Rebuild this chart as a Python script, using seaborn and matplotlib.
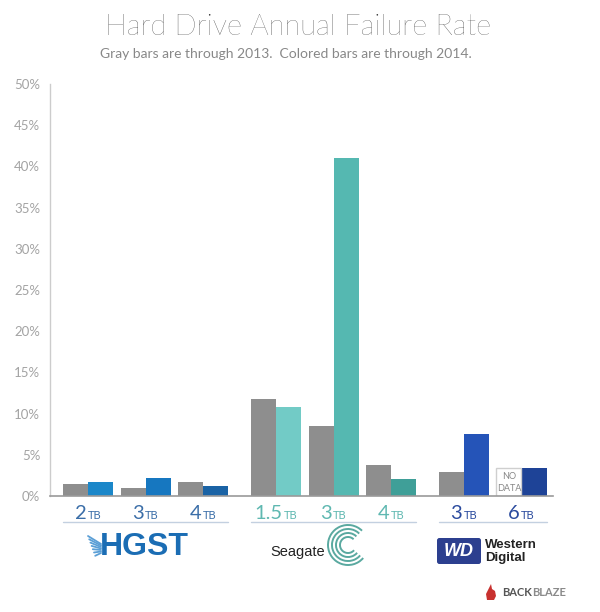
import numpy as np
import pandas as pd
import matplotlib
matplotlib.use("Agg")
import matplotlib.pyplot as plt
import seaborn as sns
from matplotlib.offsetbox import TextArea, HPacker, AnnotationBbox
from matplotlib.patches import Arc, Polygon, FancyBboxPatch
from matplotlib.lines import Line2D

# ---------------- data ----------------
brands = ["HGST", "HGST", "HGST", "Seagate", "Seagate", "Seagate", "WD", "WD"]
capacities = ["2", "3", "4", "1.5", "3", "4", "3", "6"]
rate_2013 = [1.5, 1.0, 1.7, 11.8, 8.5, 3.8, 2.9, np.nan]   # gray bars
rate_2014 = [1.65, 2.15, 1.2, 10.8, 41.0, 2.05, 7.5, 3.35]  # colored bars
colors_2014 = ["#1b87c9", "#1677c0", "#1a63a5",
               "#72cbc6", "#55b8b1", "#3f9f98",
               "#2554b8", "#1e4397"]
brand_label_colors = {"HGST": "#3b6ea8", "Seagate": "#5fb8b1", "WD": "#2b4b9e"}
y_ticks = [0, 5, 10, 15, 20, 25, 30, 35, 40, 45, 50]
y_tick_labels = [f"{t}%" for t in y_ticks]
title = "Hard Drive Annual Failure Rate"
subtitle = "Gray bars are through 2013.  Colored bars are through 2014."
gray = "#8e8e8e"

# ---------------- layout ----------------
STEP_IN = 2.3     # distance between pairs within a brand (bar widths)
STEP_OUT = 2.92   # distance between pairs across brands
centers = []
c = 0.0
for i, b in enumerate(brands):
    if i > 0:
        c += STEP_IN if b == brands[i - 1] else STEP_OUT
    centers.append(c)

rows = []
for i in range(len(brands)):
    rows.append({"x": centers[i] - 0.5, "rate": rate_2013[i], "bar": f"g{i}", "color": gray})
    rows.append({"x": centers[i] + 0.5, "rate": rate_2014[i], "bar": f"c{i}", "color": colors_2014[i]})
df = pd.DataFrame(rows)
palette = dict(zip(df["bar"], df["color"]))

sns.set_style("white")
plt.rcParams["font.family"] = ["Lato", "DejaVu Sans"]

W, H = 600, 612
fig = plt.figure(figsize=(W / 100, H / 100), dpi=100)
ax = fig.add_axes([50 / W, 1 - 496 / H, 503 / W, 412 / H])

def F(px, py):
    return (px / W, 1 - py / H)

sns.barplot(data=df.dropna(), x="x", y="rate", hue="bar", palette=palette,
            native_scale=True, dodge=False, width=1.0, errorbar=None,
            legend=False, saturation=1, linewidth=0, ax=ax)

# "NO DATA" placeholders where 2013 is missing
nd = pd.DataFrame([{"x": centers[i] - 0.5, "rate": rate_2014[i]}
                   for i in range(len(brands)) if np.isnan(rate_2013[i])])
if len(nd):
    sns.barplot(data=nd, x="x", y="rate", native_scale=True, width=1.0,
                errorbar=None, color="white", saturation=1,
                edgecolor="#cfcfcf", linewidth=1, ax=ax)
    for _, r in nd.iterrows():
        ax.text(r["x"], r["rate"] / 2, "NO\nDATA", ha="center", va="center",
                fontsize=6.5, color="#888888", linespacing=1.4)

ax.set_xlim(-38 / 25, 465 / 25)
ax.set_ylim(0, 50)
ax.set_yticks(y_ticks)
ax.set_yticklabels(y_tick_labels)
ax.set_xticks([])
ax.set_xlabel("")
ax.set_ylabel("")
ax.tick_params(axis="y", length=0, pad=7, labelsize=9.5, labelcolor="#a3a3a3")
for s in ["top", "right"]:
    ax.spines[s].set_visible(False)
ax.spines["left"].set_color("#cccccc")
ax.spines["left"].set_linewidth(1)
ax.spines["bottom"].set_color("#9a9a9a")
ax.spines["bottom"].set_linewidth(1.2)
ax.grid(False)

# capacity labels
xt = ax.get_xaxis_transform()
for i in range(len(brands)):
    col = brand_label_colors[brands[i]]
    num = TextArea(capacities[i], textprops=dict(fontsize=14.5, color=col, fontweight="normal"))
    tb = TextArea("TB", textprops=dict(fontsize=8, color=col))
    box = HPacker(children=[num, tb], align="baseline", pad=0, sep=1)
    ab = AnnotationBbox(box, (centers[i], -0.042), xycoords=xt, frameon=False,
                        box_alignment=(0.5, 0.5), annotation_clip=False)
    ax.add_artist(ab)

# brand underlines
for b in ["HGST", "Seagate", "WD"]:
    idx = [i for i in range(len(brands)) if brands[i] == b]
    ax.add_line(Line2D([centers[idx[0]] - 1.0, centers[idx[-1]] + 1.0], [-0.063, -0.063],
                       transform=xt, color="#c3d0e0", lw=1, clip_on=False))

# titles
fig.text(*F(298, 27), title, ha="center", va="center", fontsize=21,
         fontweight="light", color="#333333")
fig.text(*F(286, 54), subtitle, ha="center", va="center", fontsize=10,
         color="#888888")

# ---- logos ----
# HGST feather
for k in range(7):
    p0 = F(88 + k * 1.2, 536 + k * 3.3)
    p1 = F(101, 544 + k * 1.5)
    fig.add_artist(Line2D([p0[0], p1[0]], [p0[1], p1[1]], color="#5b9fd6", lw=1.3))
fig.text(*F(144, 547), "HGST", ha="center", va="center", fontsize=23,
         fontweight="heavy", color="#1b6db4", family=["Liberation Sans", "DejaVu Sans"])

# Seagate
fig.text(*F(270, 552), "Seagate", ha="left", va="center", fontsize=10.5,
         fontweight="medium", color="#222222", family=["Liberation Sans", "DejaVu Sans"])
for r in [8, 12, 16, 20]:
    fig.add_artist(Arc(F(348, 545), 2 * r / W, 2 * r / H, theta1=45, theta2=320,
                       color="#5aa9a0", lw=1.4))

# Western Digital
x0, y0 = F(437, 564)
fig.add_artist(FancyBboxPatch((x0, y0), 44 / W, 26 / H,
                              boxstyle="round,pad=0,rounding_size=0.004",
                              facecolor="#2c3f8f", edgecolor="none"))
fig.text(*F(459, 551), "WD", ha="center", va="center", fontsize=13,
         fontweight="bold", style="italic", color="white",
         family=["Liberation Sans", "DejaVu Sans"])
fig.text(*F(485, 545), "Western", ha="left", va="center", fontsize=9.5,
         fontweight="bold", color="#222222", family=["Liberation Sans", "DejaVu Sans"])
fig.text(*F(485, 558), "Digital", ha="left", va="center", fontsize=9.5,
         fontweight="bold", color="#222222", family=["Liberation Sans", "DejaVu Sans"])

# Backblaze
flame = [F(487, 600), F(486, 594), F(489, 588), F(491, 584), F(492, 589),
         F(495, 591), F(496, 596), F(494, 600)]
fig.add_artist(Polygon(flame, closed=True, facecolor="#c8312f", edgecolor="none"))
ta = TextArea("BACK", textprops=dict(fontsize=8, fontweight="bold", color="#555555"))
tb2 = TextArea("BLAZE", textprops=dict(fontsize=8, fontweight="bold", color="#8a8a8a"))
bb = HPacker(children=[ta, tb2], align="baseline", pad=0, sep=0)
fig.add_artist(AnnotationBbox(bb, F(502, 593), xycoords="figure fraction",
                              frameon=False, box_alignment=(0, 0.5)))

fig.savefig("out.png", dpi=100, facecolor="white")
